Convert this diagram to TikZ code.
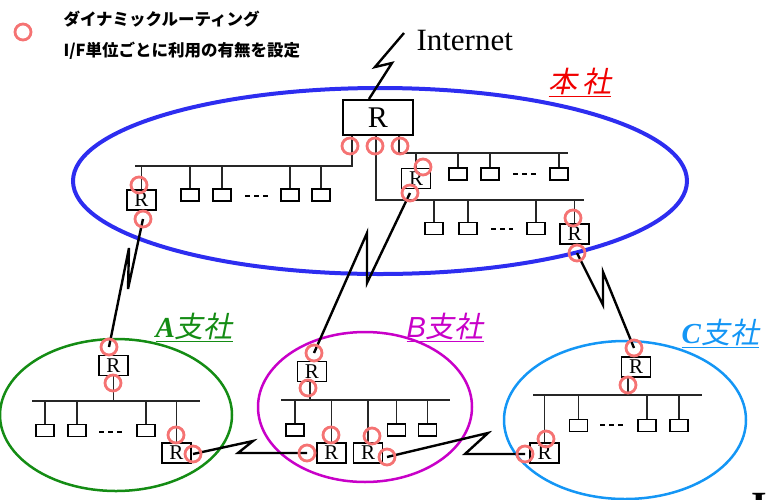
\documentclass[tikz,border=0pt]{standalone}
\usepackage{fontspec}
\setmainfont{Liberation Serif}
\setsansfont{Liberation Sans}
\newfontfamily\cjk{Noto Sans CJK JP}
\newfontfamily\cjksl{Noto Sans CJK JP}[FakeSlant=0.2]
\usetikzlibrary{positioning,calc}

\definecolor{hqblue}{RGB}{45,45,240}
\definecolor{hqred}{RGB}{240,0,0}
\definecolor{agreen}{RGB}{20,140,20}
\definecolor{bmag}{RGB}{200,0,200}
\definecolor{ccyan}{RGB}{20,150,245}
\definecolor{ifpink}{RGB}{245,115,115}

\tikzset{
  area/.style={draw=#1, line width=2.5pt},
  site/.style={anchor=base west, text=#1, font=\fontsize{29}{29}\selectfont},
  legend/.style={anchor=base west, font=\cjk\bfseries\fontsize{16.5}{16.5}\selectfont},
  router/.style={draw, line width=1.3pt, minimum width=29pt, minimum height=20pt,
    inner sep=0pt, font=\fontsize{21}{21}\selectfont},
  bigrouter/.style={router, line width=2pt, minimum width=70pt, minimum height=35pt,
    font=\fontsize{30}{30}\selectfont},
  host/.style={draw, line width=1.2pt, minimum width=18pt, minimum height=12pt, inner sep=0pt},
  ifc/.style={circle, draw=ifpink, line width=2.8pt, minimum size=16pt, inner sep=0pt},
  lan/.style={line width=1.6pt, draw=black!85},
  wan/.style={line width=2.4pt},
  dots/.style={line width=1.2pt, dash pattern=on 5pt off 4pt}
}

\begin{document}
\begin{tikzpicture}[x=1pt,y=-1pt]
\useasboundingbox (0,0) rectangle (769,499);

% legend
\node[ifc] (key) at (23,32) {};
\node[legend] (key1) at (60,25) {ダイナミックルーティング};
\node[legend] (key2) at (60,56) {I/F単位ごとに利用の有無を設定};

% sites
\draw[area=hqblue, line width=4pt] (380,181) ellipse [x radius=307, y radius=93];
\draw[area=agreen] (116,415) ellipse [x radius=116, y radius=76];
\draw[area=bmag] (365,407) ellipse [x radius=107, y radius=75];
\draw[area=ccyan] (625,420) ellipse [x radius=121, y radius=79];

\node[site=hqred] (nameH) at (545,92) {\cjksl\underline{本\,社}};
\node[site=agreen] (nameA) at (152,337) {\underline{\textbf{\textit{A}}\cjksl 支社}};
\node[site=bmag] (nameB) at (403,337) {\underline{\sffamily\textit{B}\cjksl 支社}};
\node[site=ccyan] (nameC) at (678,343) {\underline{\textbf{\textit{C}}\cjksl 支社}};

\node[anchor=base west, font=\fontsize{31}{31}\selectfont] (inet) at (413,50) {Internet};
\node[anchor=base west, font=\bfseries\fontsize{40}{40}\selectfont] (cut) at (748,519) {I};

% head office
\node[bigrouter] (rH) at (378,117.5) {R};
\node[router] (rHa) at (141.5,200) {R};
\node[router] (rHb) at (416,178.5) {R};
\node[router] (rHc) at (574.5,234) {R};
\foreach \n/\x in {1/190,2/222,3/290,4/321} \node[host] (hostHa\n) at (\x,195) {};
\foreach \n/\x in {1/458,2/490,3/559} \node[host] (hostHb\n) at (\x,174) {};
\foreach \n/\x in {1/434,2/468,3/536} \node[host] (hostHc\n) at (\x,228.5) {};

\coordinate (tapHa) at (352,166);
\coordinate (busHa) at (135,166);
\coordinate (tapHb) at (399,153);
\coordinate (busHb) at (568,153);
\coordinate (tapHc) at (376,200);
\coordinate (busHc) at (584,200);
\draw[lan] (tapHa |- rH.south) -- (tapHa) -- (busHa);
\draw[lan] (tapHb |- rH.south) -- (tapHb) -- (busHb);
\draw[lan] (tapHc |- rH.south) -- (tapHc) -- (busHc);
\foreach \n in {1,...,4} \draw[lan] (hostHa\n.north) -- (hostHa\n.north |- busHa);
\foreach \n in {1,2,3} \draw[lan] (hostHb\n.north) -- (hostHb\n.north |- busHb);
\foreach \n in {1,2,3} \draw[lan] (hostHc\n.north) -- (hostHc\n.north |- busHc);
\draw[lan] (rHa.north) -- (rHa.north |- busHa);
\draw[lan] (rHb.north) -- (rHb.north |- busHb);
\draw[lan] (rHc.north) -- (rHc.north |- busHc);
\draw[dots] (245,196) -- (268,196);
\draw[dots] (513,174) -- (536,174);
\draw[dots] (491,229) -- (513,229);

% branch A
\node[router] (rA1) at (113.5,365.5) {R};
\node[router] (rA2) at (176.5,453) {R};
\foreach \n/\x in {1/45,2/77,3/146} \node[host] (hostA\n) at (\x,430.5) {};
\coordinate (busAw) at (32,401);
\coordinate (busAe) at (200,401);
\draw[lan] (busAw) -- (busAe);
\draw[lan] (rA1.south) -- (rA1.south |- busAw);
\draw[lan] (rA2.north) -- (rA2.north |- busAw);
\foreach \n in {1,2,3} \draw[lan] (hostA\n.north) -- (hostA\n.north |- busAw);
\draw[dots] (99,432) -- (123,432);

% branch B
\node[router] (rB1) at (312,371.5) {R};
\node[router] (rB2) at (331.5,453) {R};
\node[router] (rB3) at (368,453) {R};
\foreach \n/\x in {1/295,2/396.5,3/427.5} \node[host] (hostB\n) at (\x,430) {};
\coordinate (busBw) at (281,400);
\coordinate (busBe) at (450,400);
\coordinate (tapB) at (310,400);
\draw[lan] (busBw) -- (busBe);
\draw[lan] (tapB |- rB1.south) -- (tapB);
\draw[lan] (rB2.north) -- (rB2.north |- busBw);
\draw[lan] (rB3.north) -- (rB3.north |- busBw);
\foreach \n in {1,2,3} \draw[lan] (hostB\n.north) -- (hostB\n.north |- busBw);

% branch C
\node[router] (rC1) at (636,367) {R};
\node[router] (rC2) at (544.5,453) {R};
\foreach \n/\x in {1/578.5,2/647,3/679} \node[host] (hostC\n) at (\x,425.5) {};
\coordinate (busCw) at (533,395);
\coordinate (busCe) at (702,395);
\coordinate (tapC) at (628,395);
\draw[lan] (busCw) -- (busCe);
\draw[lan] (tapC |- rC1.south) -- (tapC);
\draw[lan] (rC2.north) -- (rC2.north |- busCw);
\foreach \n in {1,2,3} \draw[lan] (hostC\n.north) -- (hostC\n.north |- busCw);
\draw[dots] (600,425) -- (623,425);

% interfaces
\foreach \n/\p in {iH1/{350,146}, iH2/{375,146}, iH3/{400,146},
    iHa1/{139,185}, iHa2/{143,219}, iHb1/{423,167}, iHb2/{410,193},
    iHc1/{573,218}, iHc2/{577,253},
    iA1/{109,347}, iA2/{113,383}, iA3/{176,435}, iA4/{193,454},
    iB1/{314,353}, iB2/{308,388}, iB3/{331,435}, iB4/{307,453}, iB5/{372,436}, iB6/{387,457},
    iC1/{634,348}, iC2/{628,385}, iC3/{546,439}, iC4/{525,454}}
  \coordinate (\n) at (\p);

% wan links
\coordinate (netend) at (404,33);
\coordinate (zN1) at (375,67);
\coordinate (zN2) at (392,63);
\draw[wan] (netend) -- (zN1) -- (zN2) -- ($(rH.north)+(-9,0)$);
\coordinate (zA1) at (128,289);
\coordinate (zA2) at (129,248);
\draw[wan] (iHa2) -- (zA1) -- (zA2) -- (iA1);
\coordinate (zB1) at (367,283);
\coordinate (zB2) at (367,233);
\draw[wan] (iHb2) -- (zB1) -- (zB2) -- (iB1);
\coordinate (zC1) at (603,305);
\coordinate (zC2) at (603,272);
\draw[wan] (iHc2) -- (zC1) -- (zC2) -- (iC1);
\coordinate (zAB1) at (253,441);
\coordinate (zAB2) at (238,453);
\draw[wan] (iA4) -- (zAB1) -- (zAB2) -- (iB4);
\coordinate (zBC1) at (488,433);
\coordinate (zBC2) at (465,454);
\draw[wan] (iB6) -- (zBC1) -- (zBC2) -- (iC4);

\foreach \n in {iH1,iH2,iH3,iHa1,iHa2,iHb1,iHb2,iHc1,iHc2,iA1,iA2,iA3,iA4,
    iB1,iB2,iB3,iB4,iB5,iB6,iC1,iC2,iC3,iC4}
  \node[ifc] at (\n) {};
\end{tikzpicture}
\end{document}
